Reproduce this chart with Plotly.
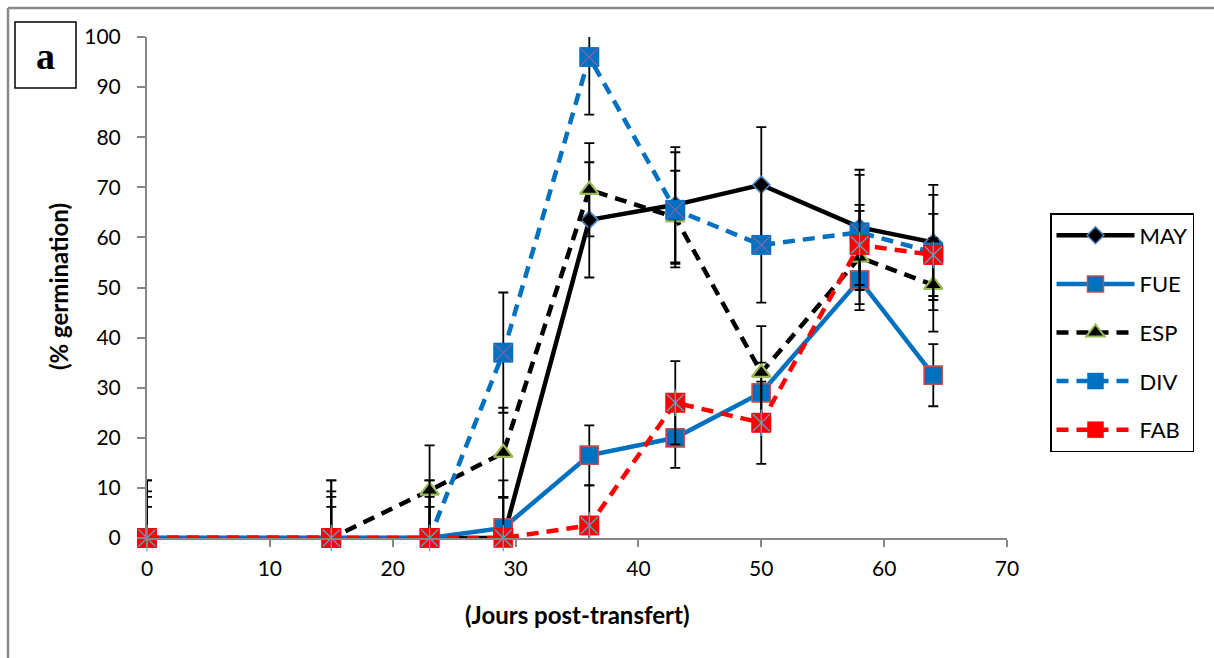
import plotly.graph_objects as go

# ---- data ----
days = [0, 15, 23, 29, 36, 43, 50, 58, 64]
series_names = ["MAY", "FUE", "ESP", "DIV", "FAB"]
may = [0, 0, 0, 0, 63.5, 66.5, 70.5, 62, 59]
fue = [0, 0, 0, 2, 16.5, 20, 29, 51.5, 32.5]
esp = [0, 0, 9.5, 17, 69.5, 64, 33, 56, 50.5]
div = [0, 0, 0, 37, 96, 65.5, 58.5, 61, 57]
fab = [0, 0, 0, 0, 2.5, 27, 23, 58.5, 56.5]
may_err = [11.5, 11.5, 11.5, 11.5, 11.5, 11.5, 11.5, 11.5, 11.5]
fue_err = [6.2, 6.2, 6.2, 6.2, 6.0, 6.0, 6.0, 6.0, 6.2]
esp_err = [9.3, 9.3, 9.0, 9.0, 9.3, 9.3, 9.3, 9.3, 9.3]
div_err = [11.5, 11.5, 11.5, 12.0, 11.5, 11.5, 11.5, 11.5, 11.5]
fab_err = [8.2, 8.2, 8.2, 8.2, 8.0, 8.3, 8.2, 8.0, 8.2]
x_ticks = [0, 10, 20, 30, 40, 50, 60, 70]
y_ticks = [0, 10, 20, 30, 40, 50, 60, 70, 80, 90, 100]

W, H = 1214, 658
L, R, T, B = 147, 207, 37, 120
PW, PH = W - L - R, H - T - B

def px(x):
    return (x - L) / PW

def py(y):
    return (H - B - y) / PH

FONT = "Lato"
BLUE = "#0070C0"

styles = [
    dict(name="MAY", y=may, e=may_err,
         line=dict(color="black", width=4.5),
         marker=dict(symbol="diamond", size=13, color="black",
                     line=dict(color="#4F81BD", width=1.5)),
         overlay=[]),
    dict(name="FUE", y=fue, e=fue_err,
         line=dict(color=BLUE, width=4.5),
         marker=dict(symbol="square", size=18, color=BLUE,
                     line=dict(color="#C0504D", width=1.5)),
         overlay=[]),
    dict(name="ESP", y=esp, e=esp_err,
         line=dict(color="black", width=4.5, dash="12px,8px"),
         marker=dict(symbol="triangle-up", size=16, color="black",
                     line=dict(color="#9BBB59", width=2)),
         overlay=[]),
    dict(name="DIV", y=div, e=div_err,
         line=dict(color=BLUE, width=4.5, dash="12px,8px"),
         marker=dict(symbol="square", size=19, color=BLUE,
                     line=dict(color=BLUE, width=0.5)),
         overlay=[dict(symbol="x-thin-open", size=17, color="#8064A2",
                       line=dict(color="#8064A2", width=1.3))]),
    dict(name="FAB", y=fab, e=fab_err,
         line=dict(color="#FF0000", width=4.5, dash="12px,8px"),
         marker=dict(symbol="square", size=19, color="#FF0000",
                     line=dict(color="#FF0000", width=0.5)),
         overlay=[dict(symbol="x-thin-open", size=17, color="#4BACC6",
                       line=dict(color="#4BACC6", width=1.3)),
                  dict(symbol="line-ns-open", size=19, color="#4BACC6",
                       line=dict(color="#4BACC6", width=1.3))]),
]

fig = go.Figure()
for s in styles:
    fig.add_trace(go.Scatter(
        x=days, y=s["y"], name=s["name"], mode="lines+markers",
        legendgroup=s["name"], line=s["line"], marker=s["marker"],
        error_y=dict(type="data", array=s["e"], symmetric=True,
                     color="black", thickness=1.8, width=5),
        cliponaxis=True, hoverinfo="x+y+name",
    ))
    fig.add_trace(go.Scatter(
        x=days, y=s["y"], mode="markers", marker=s["marker"],
        legendgroup=s["name"], showlegend=False, cliponaxis=False,
        hoverinfo="skip",
    ))
    for ov in s["overlay"]:
        fig.add_trace(go.Scatter(
            x=days, y=s["y"], mode="markers", marker=ov,
            legendgroup=s["name"], showlegend=False, cliponaxis=False,
            hoverinfo="skip",
        ))

axis_common = dict(
    showgrid=False, zeroline=False, showline=True, linecolor="#868686",
    linewidth=2, ticks="outside", tickcolor="#868686", tickwidth=1.5,
    tickfont=dict(family=FONT, size=21, color="black"),
)

fig.update_xaxes(range=[0, 70], tickvals=x_ticks, ticklen=7,
                 ticklabelstandoff=4, **axis_common)
fig.update_yaxes(range=[0, 100], tickvals=y_ticks, ticklen=8,
                 ticklabelstandoff=12, **axis_common)

fig.update_layout(
    width=W, height=H,
    margin=dict(l=L, r=R, t=T, b=B, pad=0),
    paper_bgcolor="white", plot_bgcolor="white",
    font=dict(family=FONT, color="black"),
    showlegend=True,
    legend=dict(
        x=px(1050), y=py(213), xanchor="left", yanchor="top",
        xref="paper", yref="paper",
        bordercolor="black", borderwidth=1.5, bgcolor="white",
        font=dict(family=FONT, size=22, color="black"),
        tracegroupgap=17, traceorder="grouped", itemwidth=78,
    ),
    annotations=[
        dict(text="<b>(Jours post-transfert)</b>", x=px(577), y=py(614),
             xref="paper", yref="paper", showarrow=False,
             xanchor="center", yanchor="middle",
             font=dict(family=FONT, size=24, color="black")),
        dict(text="<b>(% germination)</b>", x=px(58), y=py(287),
             xref="paper", yref="paper", showarrow=False, textangle=-90,
             xanchor="center", yanchor="middle",
             font=dict(family=FONT, size=24, color="black")),
        dict(text="<b>a</b>", x=px(45.5), y=py(56), xref="paper", yref="paper",
             showarrow=False, xanchor="center", yanchor="middle",
             font=dict(family="Liberation Serif", size=38, color="black")),
    ],
    shapes=[
        dict(type="rect", xref="paper", yref="paper",
             x0=px(15), x1=px(76), y0=py(88), y1=py(22),
             line=dict(color="black", width=1.5)),
        dict(type="line", xref="paper", yref="paper",
             x0=px(8), x1=px(1216), y0=py(8), y1=py(8),
             line=dict(color="#898989", width=2.5)),
        dict(type="line", xref="paper", yref="paper",
             x0=px(8), x1=px(8), y0=py(8), y1=py(660),
             line=dict(color="#898989", width=2.5)),
    ],
)

fig.write_html("out.html")
